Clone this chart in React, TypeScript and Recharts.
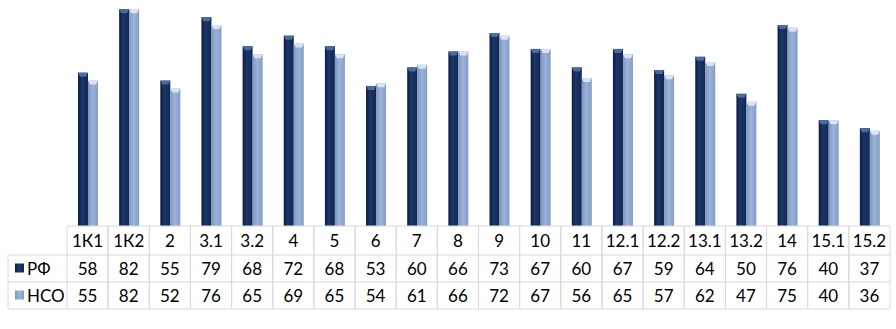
import React from "react";
import { BarChart, Bar, XAxis, YAxis } from "recharts";

const categories = ["1К1", "1К2", "2", "3.1", "3.2", "4", "5", "6", "7", "8", "9", "10", "11", "12.1", "12.2", "13.1", "13.2", "14", "15.1", "15.2"];
const rfValues = [58, 82, 55, 79, 68, 72, 68, 53, 60, 66, 73, 67, 60, 67, 59, 64, 50, 76, 40, 37];
const nsoValues = [55, 82, 52, 76, 65, 69, 65, 54, 61, 66, 72, 67, 56, 65, 57, 62, 47, 75, 40, 36];
const seriesNames = ["РФ", "НСО"];

const data = categories.map((c, i) => ({ cat: c, rf: rfValues[i], nso: nsoValues[i] }));

const W = 896;
const H = 329;
const PLOT_LEFT = 67;
const PLOT_RIGHT = 890;
const BASE = 226;
const ROW1 = 255;
const ROW2 = 282;
const ROW3 = 309;
const COL = (PLOT_RIGHT - PLOT_LEFT) / categories.length;
const LINE = "#d9d9d9";
const FONT = "Lato, 'Open Sans', sans-serif";

function BevelBar(props: any) {
  const { x, y, width, height, fill, light } = props;
  if (!height || height <= 0) return null;
  const t = Math.min(4, height);
  return (
    <g>
      <rect x={x} y={y} width={width} height={height} fill={fill} />
      <polygon
        points={`${x},${y} ${x + width},${y} ${x + width - 2},${y + t} ${x + 2},${y + t}`}
        fill={light}
      />
    </g>
  );
}

function TableTick(props: any) {
  const { x, payload } = props;
  const i = payload.index;
  const l = x - COL / 2;
  const r = x + COL / 2;
  const ty = (a: number, b: number) => (a + b) / 2 + 6;
  return (
    <g fontFamily={FONT} fontSize={17} fill="#000">
      <line x1={l} y1={BASE} x2={l} y2={ROW3} stroke={LINE} />
      <line x1={r} y1={BASE} x2={r} y2={ROW3} stroke={LINE} />
      <line x1={l} y1={BASE} x2={r} y2={BASE} stroke={LINE} />
      <line x1={l} y1={ROW1} x2={r} y2={ROW1} stroke={LINE} />
      <line x1={l} y1={ROW2} x2={r} y2={ROW2} stroke={LINE} />
      <line x1={l} y1={ROW3} x2={r} y2={ROW3} stroke={LINE} />
      <text x={x} y={ty(BASE, ROW1)} textAnchor="middle">{categories[i]}</text>
      <text x={x} y={ty(ROW1, ROW2)} textAnchor="middle">{rfValues[i]}</text>
      <text x={x} y={ty(ROW2, ROW3)} textAnchor="middle">{nsoValues[i]}</text>
      {i === 0 && (
        <g>
          <line x1={8} y1={ROW1} x2={l} y2={ROW1} stroke={LINE} />
          <line x1={8} y1={ROW2} x2={l} y2={ROW2} stroke={LINE} />
          <line x1={8} y1={ROW3} x2={l} y2={ROW3} stroke={LINE} />
          <line x1={8} y1={ROW1} x2={8} y2={ROW3} stroke={LINE} />
          <rect x={15} y={ty(ROW1, ROW2) - 11} width={9} height={9} fill="url(#gRf)" />
          <rect x={15} y={ty(ROW2, ROW3) - 11} width={9} height={9} fill="url(#gNso)" />
          <text x={27} y={ty(ROW1, ROW2)}>{seriesNames[0]}</text>
          <text x={27} y={ty(ROW2, ROW3)}>{seriesNames[1]}</text>
        </g>
      )}
    </g>
  );
}

export default function App() {
  return (
    <div style={{ position: "absolute", left: 0, top: 0, width: W, height: H, background: "#fff" }}>
      <BarChart
        width={W}
        height={H}
        data={data}
        margin={{ top: 0, right: W - PLOT_RIGHT, left: PLOT_LEFT, bottom: 0 }}
        barGap={0}
        barSize={10}
      >
        <defs>
          <linearGradient id="gRf" x1="0" y1="0" x2="1" y2="0">
            <stop offset="0%" stopColor="#0c1d42" />
            <stop offset="40%" stopColor="#1b3669" />
            <stop offset="100%" stopColor="#112750" />
          </linearGradient>
          <linearGradient id="gNso" x1="0" y1="0" x2="1" y2="0">
            <stop offset="0%" stopColor="#7c95c2" />
            <stop offset="45%" stopColor="#9cb3d9" />
            <stop offset="100%" stopColor="#849dc8" />
          </linearGradient>
        </defs>
        <XAxis
          dataKey="cat"
          interval={0}
          axisLine={false}
          tickLine={false}
          height={H - BASE}
          tick={<TableTick />}
        />
        <YAxis hide domain={[0, 85.5]} />
        <Bar
          dataKey="rf"
          name={seriesNames[0]}
          fill="url(#gRf)"
          isAnimationActive={false}
          shape={(p: any) => <BevelBar {...p} fill="url(#gRf)" light="#4a6aa0" />}
        />
        <Bar
          dataKey="nso"
          name={seriesNames[1]}
          fill="url(#gNso)"
          isAnimationActive={false}
          shape={(p: any) => <BevelBar {...p} fill="url(#gNso)" light="#d8e4f6" />}
        />
      </BarChart>
    </div>
  );
}
